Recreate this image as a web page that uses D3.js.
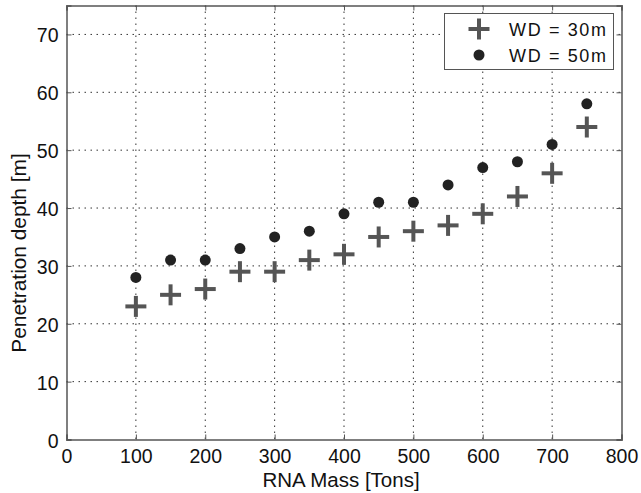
<!DOCTYPE html>
<html><head><meta charset="utf-8">
<script src="https://cdn.jsdelivr.net/npm/d3@7"></script>
<style>body{margin:0;background:#fff}svg{display:block}text{font-family:"Liberation Sans",Arial,sans-serif}</style>
</head><body><svg id="c" width="641" height="493"></svg>
<script>
const mass = [100,150,200,250,300,350,400,450,500,550,600,650,700,750];
const wd30 = [23,25,26,29,29,31,32,35,36,37,39,42,46,54];
const wd50 = [28,31,31,33,35,36,39,41,41,44,47,48,51,58];
const xTicks = [0,100,200,300,400,500,600,700,800];
const yTicks = [0,10,20,30,40,50,60,70];
const seriesNames = ["WD = 30m","WD = 50m"];

const svg = d3.select("#c");
const L=66.5, R=621.5, T=5.5, B=439.5;
const x = d3.scaleLinear().domain([0,800]).range([L,R]);
const y = d3.scaleLinear().domain([0,75]).range([B,T]);
const SY = 1.07;

// grid
const g = svg.append("g");
g.selectAll(".gx").data(xTicks.filter(d=>d>0&&d<800)).join("line")
 .attr("x1",d=>x(d)).attr("x2",d=>x(d)).attr("y1",T).attr("y2",B)
 .attr("stroke","#333").attr("stroke-width",1).attr("stroke-dasharray","1.5,4.5");
g.selectAll(".gy").data(yTicks.filter(d=>d>0)).join("line")
 .attr("y1",d=>y(d)).attr("y2",d=>y(d)).attr("x1",L).attr("x2",R)
 .attr("stroke","#333").attr("stroke-width",1).attr("stroke-dasharray","1.5,4.5");

// axes
const ax = svg.append("g").attr("transform",`translate(0,${B})`)
 .call(d3.axisBottom(x).tickValues(xTicks).tickSize(-5).tickPadding(6).tickFormat(d3.format("d")));
const ax2 = svg.append("g").attr("transform",`translate(0,${T})`)
 .call(d3.axisTop(x).tickValues(xTicks).tickSize(-5).tickFormat(""));
const ay = svg.append("g").attr("transform",`translate(${L},0)`)
 .call(d3.axisLeft(y).tickValues(yTicks).tickSize(-5).tickPadding(8).tickFormat(d3.format("d")));
const ay2 = svg.append("g").attr("transform",`translate(${R},0)`)
 .call(d3.axisRight(y).tickValues(yTicks).tickSize(-5).tickFormat(""));
[ax,ax2,ay,ay2].forEach(a=>{
  a.selectAll("path").attr("stroke","#555").attr("stroke-width",1.5);
  a.selectAll("line").attr("stroke","#555");
  a.selectAll("text").attr("font-size",19.5).attr("fill","#111")
   .attr("font-family","'Liberation Sans',Arial,sans-serif")
   .attr("transform",`scale(1,${SY})`);
});
ax.selectAll("text").attr("y",23.3/SY).attr("dy",0);
ay.selectAll("text").attr("dy","0.36em");

// plus markers
const plus = (sel, cx, cy, s) => {
  sel.append("line").attr("x1",cx-s).attr("x2",cx+s).attr("y1",cy).attr("y2",cy);
  sel.append("line").attr("x1",cx).attr("x2",cx).attr("y1",cy-s).attr("y2",cy+s);
};
const pg = svg.append("g").attr("stroke","#555").attr("stroke-width",4);
mass.forEach((m,i)=>plus(pg, x(m), y(wd30[i]), 10.5));
svg.append("g").selectAll("circle").data(mass).join("circle")
 .attr("cx",d=>x(d)).attr("cy",(d,i)=>y(wd50[i])).attr("r",5.5).attr("fill","#222");

// legend
const lg = svg.append("g");
lg.append("rect").attr("x",444.5).attr("y",13.5).attr("width",169).attr("height",56)
 .attr("fill","#fff").attr("stroke","#555").attr("stroke-width",1);
const lp = lg.append("g").attr("stroke","#555").attr("stroke-width",4);
plus(lp, 479, 29, 10.5);
lg.append("circle").attr("cx",479).attr("cy",55).attr("r",5.5).attr("fill","#222");
lg.selectAll(".lt").data(seriesNames).join("text")
 .attr("x",509).attr("y",(d,i)=>(29+i*26)/SY).attr("dy","0.36em")
 .attr("transform",`scale(1,${SY})`)
 .attr("textLength",97).attr("lengthAdjust","spacing")
 .attr("font-size",18).attr("fill","#111").text(d=>d);

// axis titles
svg.append("text").attr("x",341).attr("y",486.5).attr("text-anchor","middle")
 .attr("font-size",20.5).attr("fill","#111").text("RNA Mass [Tons]");
svg.append("text").attr("transform",`translate(25.5,253) rotate(-90) scale(${SY},1)`)
 .attr("text-anchor","middle").attr("font-size",19.5).attr("fill","#111").text("Penetration depth [m]");
</script></body></html>
